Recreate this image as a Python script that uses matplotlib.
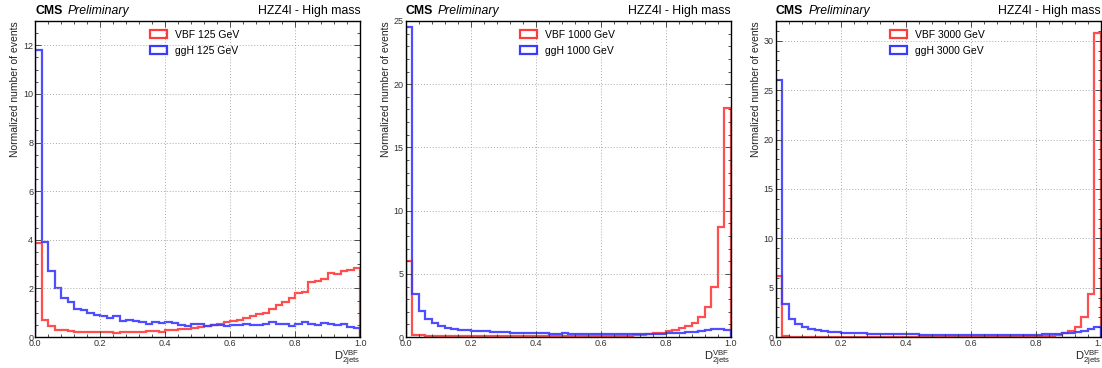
import numpy as np
import matplotlib
matplotlib.use("Agg")
import matplotlib.pyplot as plt
from matplotlib.patches import Patch
from matplotlib.ticker import MultipleLocator, AutoMinorLocator

plt.rcParams['font.family'] = ['Liberation Sans', 'DejaVu Sans']
plt.rcParams['mathtext.fontset'] = 'custom'
plt.rcParams['mathtext.rm'] = 'Liberation Sans'
plt.rcParams['mathtext.it'] = 'Liberation Sans:italic'

# 50 bins of D_2jets^VBF between 0 and 1
n_bins = 50
masses = ["125", "1000", "3000"]

vbf_125 = [3.85, 0.7, 0.45, 0.3, 0.28, 0.25, 0.22, 0.2, 0.22, 0.2,
           0.2, 0.2, 0.18, 0.2, 0.2, 0.2, 0.22, 0.25, 0.25, 0.22,
           0.28, 0.3, 0.32, 0.35, 0.38, 0.4, 0.45, 0.5, 0.55, 0.6,
           0.65, 0.7, 0.8, 0.85, 0.95, 1.0, 1.15, 1.3, 1.45, 1.6,
           1.8, 1.85, 2.25, 2.3, 2.4, 2.65, 2.6, 2.7, 2.75, 2.85]
ggh_125 = [11.8, 3.9, 2.7, 2.0, 1.6, 1.45, 1.15, 1.1, 1.0, 0.9,
           0.85, 0.8, 0.85, 0.65, 0.7, 0.65, 0.6, 0.55, 0.6, 0.58,
           0.6, 0.58, 0.5, 0.45, 0.55, 0.52, 0.45, 0.5, 0.5, 0.45,
           0.5, 0.5, 0.55, 0.48, 0.5, 0.55, 0.6, 0.55, 0.55, 0.45,
           0.55, 0.6, 0.55, 0.5, 0.58, 0.55, 0.5, 0.52, 0.42, 0.38]

vbf_1000 = [6.05, 0.2, 0.15, 0.1, 0.08, 0.06, 0.05, 0.05, 0.05, 0.05,
            0.05, 0.05, 0.05, 0.05, 0.05, 0.05, 0.05, 0.05, 0.05, 0.05,
            0.05, 0.05, 0.05, 0.05, 0.05, 0.05, 0.05, 0.05, 0.06, 0.06,
            0.07, 0.08, 0.08, 0.1, 0.12, 0.15, 0.2, 0.25, 0.3, 0.35,
            0.45, 0.55, 0.7, 0.85, 1.1, 1.6, 2.4, 4.0, 8.7, 18.1]
ggh_1000 = [24.5, 3.4, 2.05, 1.4, 1.1, 0.85, 0.7, 0.65, 0.6, 0.55,
            0.5, 0.48, 0.45, 0.42, 0.4, 0.38, 0.35, 0.35, 0.33, 0.32,
            0.3, 0.3, 0.28, 0.28, 0.3, 0.27, 0.25, 0.25, 0.25, 0.25,
            0.25, 0.25, 0.25, 0.25, 0.25, 0.25, 0.25, 0.26, 0.27, 0.28,
            0.3, 0.32, 0.35, 0.38, 0.4, 0.45, 0.55, 0.65, 0.65, 0.55]

vbf_3000 = [6.2, 0.1, 0.05, 0.05, 0.03, 0.02, 0.02, 0.02, 0.02, 0.02,
            0.02, 0.02, 0.02, 0.02, 0.02, 0.02, 0.02, 0.02, 0.02, 0.02,
            0.02, 0.02, 0.02, 0.02, 0.02, 0.02, 0.02, 0.02, 0.02, 0.02,
            0.02, 0.02, 0.02, 0.02, 0.03, 0.03, 0.04, 0.05, 0.06, 0.08,
            0.1, 0.12, 0.15, 0.25, 0.4, 0.6, 1.0, 2.0, 4.4, 30.8]
ggh_3000 = [26.0, 3.3, 1.8, 1.3, 1.0, 0.85, 0.7, 0.6, 0.55, 0.5,
            0.45, 0.42, 0.4, 0.38, 0.35, 0.33, 0.32, 0.3, 0.3, 0.3,
            0.28, 0.27, 0.25, 0.25, 0.22, 0.22, 0.2, 0.2, 0.2, 0.2,
            0.2, 0.2, 0.2, 0.2, 0.22, 0.25, 0.22, 0.2, 0.22, 0.22,
            0.25, 0.28, 0.3, 0.33, 0.38, 0.45, 0.55, 0.65, 0.8, 1.05]

vbf_all = [vbf_125, vbf_1000, vbf_3000]
ggh_all = [ggh_125, ggh_1000, ggh_3000]
y_max = [13, 25, 32]
y_step = [2, 5, 5]

red = '#ff3b3b'
blue = '#3b3bff'

fig = plt.figure(figsize=(11.02, 3.68), dpi=100)
lefts = [0.032, 0.368, 0.704]
edges = np.linspace(0, 1, n_bins + 1)

for i in range(3):
    ax = fig.add_axes([lefts[i], 0.084, 0.295, 0.859])
    ax.stairs(vbf_all[i], edges, color=red, lw=1.6, alpha=0.9)
    ax.stairs(ggh_all[i], edges, color=blue, lw=1.6, alpha=0.9)
    ax.set_xlim(0, 1)
    ax.set_ylim(0, y_max[i])

    ax.xaxis.set_major_locator(MultipleLocator(0.2))
    ax.xaxis.set_minor_locator(AutoMinorLocator(5))
    ax.yaxis.set_major_locator(MultipleLocator(y_step[i]))
    ax.yaxis.set_minor_locator(AutoMinorLocator(4 if y_step[i] == 2 else 5))
    ax.tick_params(which='both', direction='in', top=True, right=True,
                   labelsize=6.5, pad=1.5, width=0.6, color='#333333',
                   labelcolor='#333333')
    ax.tick_params(which='major', length=4)
    ax.tick_params(which='minor', length=2)
    ax.xaxis.set_major_formatter(matplotlib.ticker.FormatStrFormatter('%.1f'))
    ax.grid(True, which='major', ls=(0, (1, 2)), color='#aaaaaa', lw=0.7)
    for s in ax.spines.values():
        s.set_linewidth(1.0)

    ax.set_ylabel('Normalized number of events', fontsize=7.5, loc='top',
                  labelpad=2, color='#222222')
    ax.text(1.0, -0.037, r'D$^{\rm VBF}_{\rm 2jets}$', transform=ax.transAxes,
            ha='right', va='top', fontsize=8, color='#222222')

    ax.text(0.0, 1.012, 'CMS', transform=ax.transAxes, ha='left', va='bottom',
            fontsize=8.8, fontweight='bold')
    ax.text(0.1, 1.012, 'Preliminary', transform=ax.transAxes, ha='left',
            va='bottom', fontsize=8.8, style='italic')
    ax.text(1.0, 1.012, 'HZZ4l - High mass', transform=ax.transAxes,
            ha='right', va='bottom', fontsize=8.8)

    handles = [Patch(facecolor='none', edgecolor=red, lw=1.6, label='VBF %s GeV' % masses[i]),
               Patch(facecolor='none', edgecolor=blue, lw=1.6, label='ggH %s GeV' % masses[i])]
    ax.legend(handles=handles, loc='upper left', bbox_to_anchor=(0.33, 0.995),
              frameon=False, fontsize=7.5, handlelength=1.6, handleheight=0.8,
              labelspacing=0.6, handletextpad=0.8, borderaxespad=0.3)

fig.savefig('out.png', dpi=100)
